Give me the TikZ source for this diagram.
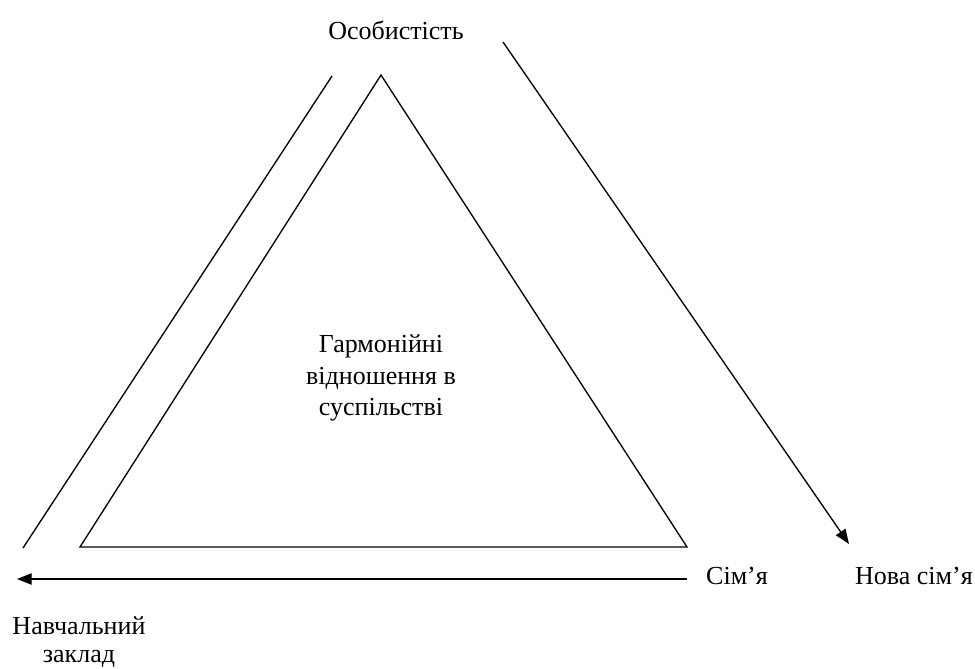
\documentclass[tikz,border=0pt]{standalone}
\usepackage{fontspec}
\setmainfont{Liberation Serif}
\usepackage{tikz}
\usetikzlibrary{arrows.meta, positioning}
\tikzstyle{caption} = [font=\fontsize{19.5}{23.5}\selectfont, align=center, inner sep=0pt]
\tikzstyle{edge}    = [line width=1pt]
\tikzstyle{arrow}   = [line width=1pt, -{Triangle[length=11pt, width=8.5pt]}]

\begin{document}
\begin{tikzpicture}[x=0.75pt, y=-0.75pt]
  \useasboundingbox (0,0) rectangle (975,668);

  % triangle corners
  \coordinate (top) at (381,75);
  \coordinate (bl)  at (80,547);
  \coordinate (br)  at (687,547);
  % side lines
  \coordinate (lt)  at (332,76);
  \coordinate (lb)  at (23,548);
  \coordinate (rt)  at (503,42);
  \coordinate (rb)  at (849,544);
  \coordinate (ar)  at (687,579);
  \coordinate (al)  at (17,579);

  \node[caption] (person) at (396,30) {Особистість};
  \node[caption] (center) at (381,378) {Гармонійні\\відношення в\\суспільстві};
  \node[caption] (family) at (737,576) {Сім’я};
  \node[caption] (newfam) at (914,576) {Нова сім’я};
  \node[caption, font=\fontsize{19.5}{21}\selectfont] (school) at (79,642) {Навчальний\\заклад};

  \draw[edge] (top)--(bl)--(br)--cycle;
  \draw[edge] (lt)--(lb);
  \draw[arrow] (rt)--(rb);
  \draw[arrow] (ar)--(al);
\end{tikzpicture}
\end{document}
